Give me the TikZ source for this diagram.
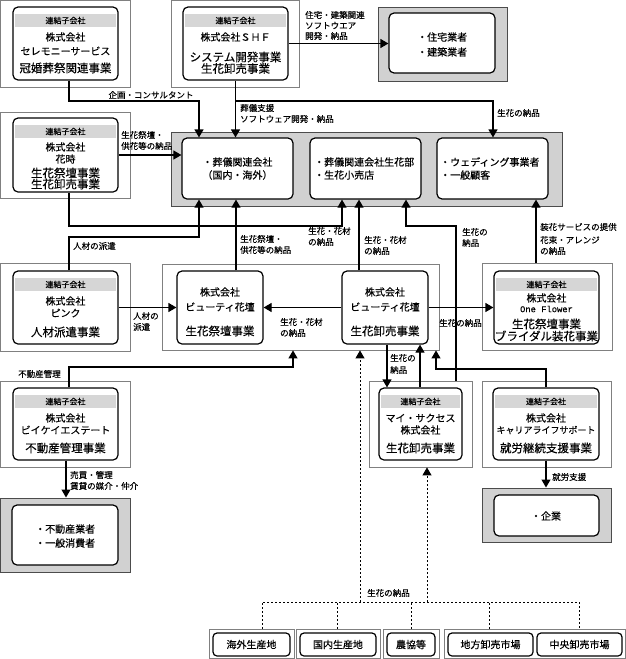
\documentclass[tikz,border=0pt]{standalone}
\usepackage{fontspec}
\setmainfont{Noto Sans CJK JP}[FakeBold=0.35]
\setmonofont{Liberation Mono}[FakeBold=0.35]
\usetikzlibrary{arrows.meta,fit}
\begin{document}
\begin{tikzpicture}[x=1pt,y=-1pt,
 frame/.style={draw=black!50, line width=0.8pt, fill=white, inner sep=0pt},
 cframe/.style={draw=black!70, line width=1pt, fill=black!18, inner sep=0pt},
 ibox/.style={draw=black, line width=1.2pt, rounded corners=5pt, fill=white, inner sep=0pt},
 hdr/.style={fill=black!16, inner sep=0pt},
 ht/.style={font=\fontsize{8}{8}\selectfont, inner sep=0pt},
 cn/.style={font=\fontsize{10}{10}\selectfont, inner sep=0pt},
 bz/.style={font=\fontsize{11.5}{11.5}\selectfont, inner sep=0pt},
 ct/.style={font=\fontsize{10}{10}\selectfont, inner sep=0pt},
 lab/.style={font=\fontsize{8.5}{8.5}\selectfont, inner sep=0pt, anchor=west},
 arr/.style={line width=1.2pt, -{Triangle[length=8pt,width=9pt]}},
 dot/.style={line width=1pt, dash pattern=on 2pt off 2pt},
 dotarr/.style={line width=1pt, dash pattern=on 2pt off 2pt, -{Triangle[length=8pt,width=9pt]}},
]
\useasboundingbox (0,0) rectangle (626,659);
% ---------- outer frames ----------
\node[frame, fit={(0.5,0.5)(130,87)}] (cerF) {};
\node[frame, fit={(171,0.5)(299,87)}] (shfF) {};
\node[cframe, fit={(378,7)(507,81)}] (jutF) {};
\node[frame, fit={(0.5,112)(130,198)}] (hanaF) {};
\node[cframe, fit={(171,132)(562,206)}] (cusF) {};
\node[frame, fit={(0.5,263)(130,351)}] (pinkF) {};
\node[frame, fit={(162,264)(439,350)}] (bkF) {};
\node[frame, fit={(482,263)(612,350)}] (onefF) {};
\node[frame, fit={(0.5,381)(130,467)}] (fudoF) {};
\node[frame, fit={(369,381)(472,467)}] (mysF) {};
\node[frame, fit={(482,381)(611,467)}] (carF) {};
\node[cframe, fit={(0.5,498)(130,572)}] (fcusF) {};
\node[cframe, fit={(482,488)(611,542)}] (kigF) {};
\node[frame, fit={(209,629)(294,658.5)}] (b1F) {};
\node[frame, fit={(296,629)(380,658.5)}] (b2F) {};
\node[frame, fit={(383,629)(439,658.5)}] (b3F) {};
\node[frame, fit={(444,629)(625.5,658.5)}] (b45F) {};
% ---------- inner boxes ----------
\node[ibox, fit={(13,7)(118,80)}] (cer) {};
\node[ibox, fit={(183,7)(288,80)}] (shf) {};
\node[ibox, fit={(389,13)(495,73)}] (jut) {};
\node[ibox, fit={(13,118)(118,192)}] (hana) {};
\node[ibox, fit={(182,138)(293,199)}] (c1) {};
\node[ibox, fit={(310,138)(421,199)}] (c2) {};
\node[ibox, fit={(437,138)(548,199)}] (c3) {};
\node[ibox, fit={(13,271)(118,344)}] (pink) {};
\node[ibox, fit={(177,271)(263,344)}] (bks) {};
\node[ibox, fit={(342,271)(428,344)}] (bko) {};
\node[ibox, fit={(494,271)(599,344)}] (onef) {};
\node[ibox, fit={(13,388)(118,460)}] (fudo) {};
\node[ibox, fit={(379,388)(462,460)}] (mys) {};
\node[ibox, fit={(493,388)(599,460)}] (car) {};
\node[ibox, fit={(12,505)(118,565)}] (fcus) {};
\node[ibox, fit={(494,495)(599,536)}] (kig) {};
\node[ibox, rounded corners=4pt, fit={(213,633)(290,656)}] (b1) {};
\node[ibox, rounded corners=4pt, fit={(300,633)(376,656)}] (b2) {};
\node[ibox, rounded corners=4pt, fit={(387,633)(435,656)}] (b3) {};
\node[ibox, rounded corners=4pt, fit={(448,633)(533,656)}] (b4) {};
\node[ibox, rounded corners=4pt, fit={(537,633)(622,656)}] (b5) {};
% ---------- header bands ----------
\node[hdr, fit={(15,14)(116,27)}] (cerH) {};
\node[hdr, fit={(185,14)(286,27)}] (shfH) {};
\node[hdr, fit={(15,125)(116,138)}] (hanaH) {};
\node[hdr, fit={(15,278)(116,291)}] (pinkH) {};
\node[hdr, fit={(496,278)(597,291)}] (onefH) {};
\node[hdr, fit={(15,395)(116,408)}] (fudoH) {};
\node[hdr, fit={(381,395)(460,408)}] (mysH) {};
\node[hdr, fit={(495,395)(597,408)}] (carH) {};
\foreach \h in {cerH,shfH,hanaH,pinkH,onefH,fudoH,mysH,carH}
  \node[ht] (\h t) at (\h) {連結子会社};
% ---------- box texts ----------
\node[cn] (cer1) at (65.5,37) {株式会社};
\node[cn] (cer2) at (65.5,51) {セレモニーサービス};
\node[bz] (cer3) at (65.5,68) {冠婚葬祭関連事業};
\node[cn] (shf1) at (235.5,37) {株式会社ＳＨＦ};
\node[bz] (shf2) at (235.5,57) {システム開発事業};
\node[bz] (shf3) at (235.5,68.5) {生花卸売事業};
\node[cn] (hana1) at (65.5,147) {株式会社};
\node[cn] (hana2) at (65.5,159) {花時};
\node[bz] (hana3) at (65.5,173) {生花祭壇事業};
\node[bz] (hana4) at (65.5,184) {生花卸売事業};
\node[cn] (pink1) at (65.5,301) {株式会社};
\node[cn] (pink2) at (65.5,313) {ピンク};
\node[bz] (pink3) at (65.5,332) {人材派遣事業};
\node[cn] (fudo1) at (65.5,418) {株式会社};
\node[cn] (fudo2) at (65.5,430) {ビイケイエステート};
\node[bz] (fudo3) at (65.5,448) {不動産管理事業};
\node[cn] (onef1) at (546.5,298) {株式会社};
\node[font=\ttfamily\fontsize{8.8}{8.8}\selectfont, inner sep=0pt] (onef2) at (546.5,309) {One Flower};
\node[bz] (onef3) at (546.5,324) {生花祭壇事業};
\node[bz] (onef4) at (546.5,336) {ブライダル装花事業};
\node[cn] (mys1) at (420.5,418) {マイ・サクセス};
\node[cn] (mys2) at (420.5,430) {株式会社};
\node[bz] (mys3) at (420.5,448) {生花卸売事業};
\node[cn] (car1) at (546,418) {株式会社};
\node[font=\fontsize{9}{9}\selectfont, inner sep=0pt] (car2) at (546,430) {キャリアライフサポート};
\node[bz] (car3) at (546,448) {就労継続支援事業};
\node[cn] (bks1) at (220,292) {株式会社};
\node[cn] (bks2) at (220,307) {ビューティ花壇};
\node[bz] (bks3) at (220,331) {生花祭壇事業};
\node[cn] (bko1) at (385,292) {株式会社};
\node[cn] (bko2) at (385,307) {ビューティ花壇};
\node[bz] (bko3) at (385,331) {生花卸売事業};
% customer texts
\node[ct, anchor=west] (jut1) at (417,37) {・住宅業者};
\node[ct, anchor=west] (jut2) at (417,52) {・建築業者};
\node[ct] (c1a) at (237.5,162) {・葬儀関連会社};
\node[ct] (c1b) at (237.5,175) {（国内・海外）};
\node[ct, anchor=west] (c2a) at (314,162) {・葬儀関連会社生花部};
\node[ct, anchor=west] (c2b) at (314,175) {・生花小売店};
\node[ct, anchor=west] (c3a) at (440,162) {・ウェディング事業者};
\node[ct, anchor=west] (c3b) at (440,175) {・一般顧客};
\node[ct, anchor=west] (fcus1) at (35,529) {・不動産業者};
\node[ct, anchor=west] (fcus2) at (35,543) {・一般消費者};
\node[ct] (kig1) at (546,516) {・企業};
\node[ct] (b1t) at (b1) {海外生産地};
\node[ct] (b2t) at (b2) {国内生産地};
\node[ct] (b3t) at (b3) {農協等};
\node[ct] (b4t) at (b4) {地方卸売市場};
\node[ct] (b5t) at (b5) {中央卸売市場};
% ---------- connectors ----------
\draw[arr] (cer.south -| 69,0) -- (69,101) -| (c1.north -| 199,0);
\draw[arr] (shf.south) -- (c1.north -| shf.south);
\draw[arr] (shf.south |- 0,101) -| (c3.north -| 493,0);
\draw[arr] (shf.east) -- (jut.west |- shf.east);
\draw[arr] (hana.east) -- (c1.west |- hana.east);
\draw[arr] (hana.south -| 69,0) -- (69,226) -| (c2.south -| 342,0);
\draw[arr] (pink.north -| 69,0) -- (69,237) -| (c1.south -| 199,0);
\draw[arr] (bks.north -| 236,0) -- (c1.south -| 236,0);
\draw[arr] (bko.north -| 359,0) -- (c2.south -| 359,0);
\draw[arr] (mysF.north -| 456,0) -- (456,226) -| (c2.south -| 406,0);
\draw[arr] (onefF.north -| 536,0) -- (c3.south -| 536,0);
\draw[arr] (pink.east) -- (bks.west |- pink.east);
\draw[arr] (bko.west) -- (bks.east |- bko.west);
\draw[arr] (bko.east) -- (onef.west |- bko.east);
\draw[arr] (bko.south -| 387,0) -- (mys.north -| 387,0);
\draw[arr] (mys.north -| 420,0) -- (bko.south -| 420,0);
\draw[arr] (car.north -| 546,0) -- (546,369) -| (bkF.south -| 436,0);
\draw[arr] (fudo.north -| 69,0) -- (69,367) -| (bkF.south -| 293,0);
\draw[arr] (fudo.south -| 66,0) -- (fcusF.north -| 66,0);
\draw[arr] (car.south -| 546,0) -- (kigF.north -| 546,0);
% dotted supply lines
\draw[dot] (b1F.north -| 262,0) -- (262,602) -| (b45F.north -| 579,0);
\draw[dot] (b2F.north -| 337,0) -- (337,602);
\draw[dot] (b3F.north -| 411,0) -- (411,602);
\draw[dot] (b45F.north -| 489,0) -- (489,602);
\draw[dotarr] (360,602) -- (bkF.south -| 360,0);
\draw[dotarr] (427,602) -- (mysF.south -| 427,0);
% ---------- labels ----------
\node[lab, anchor=center] (l1) at (151,95) {企画・コンサルタント};
\node[lab] (l2a) at (240,108) {葬儀支援};
\node[lab] (l2b) at (240,119) {ソフトウェア開発・納品};
\node[lab] (l3) at (497,113) {生花の納品};
\node[lab] (l4a) at (305,15) {住宅・建築関連};
\node[lab] (l4b) at (305,25.5) {ソフトウエア};
\node[lab] (l4c) at (305,36) {開発・納品};
\node[lab] (l5a) at (121,135) {生花祭壇・};
\node[lab] (l5b) at (121,146) {供花等の納品};
\node[lab] (l6) at (73,246) {人材の派遣};
\node[lab] (l7a) at (240,239) {生花祭壇・};
\node[lab] (l7b) at (240,250) {供花等の納品};
\node[lab] (l8a) at (308,231) {生花・花材};
\node[lab] (l8b) at (308,242) {の納品};
\node[lab] (l9a) at (364,240) {生花・花材};
\node[lab] (l9b) at (364,251) {の納品};
\node[lab] (l10a) at (462,232) {生花の};
\node[lab] (l10b) at (462,243) {納品};
\node[lab] (l11a) at (540,227) {装花サービスの提供};
\node[lab] (l11b) at (540,240) {花束・アレンジ};
\node[lab] (l11c) at (540,251) {の納品};
\node[lab] (l12a) at (133,316) {人材の};
\node[lab] (l12b) at (133,327) {派遣};
\node[lab] (l13a) at (280,322) {生花・花材};
\node[lab] (l13b) at (280,333) {の納品};
\node[lab] (l14) at (439,323) {生花の納品};
\node[lab] (l15a) at (390,358) {生花の};
\node[lab] (l15b) at (390,370) {納品};
\node[lab] (l16) at (18,374) {不動産管理};
\node[lab] (l17a) at (70,475) {売買・管理};
\node[lab] (l17b) at (70,486) {賃貸の媒介・仲介};
\node[lab] (l18) at (552,477) {就労支援};
\node[lab] (l19) at (367,593) {生花の納品};
\end{tikzpicture}
\end{document}
